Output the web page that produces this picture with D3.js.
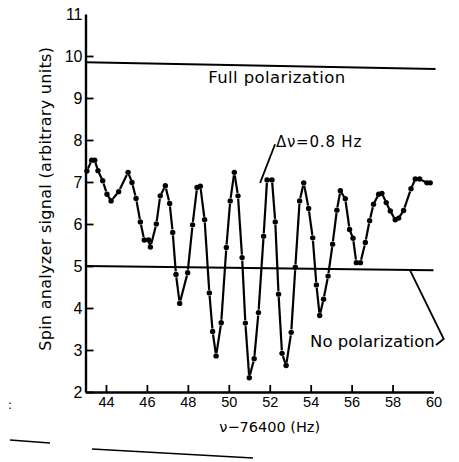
<!DOCTYPE html>
<html>
<head>
<meta charset="utf-8">
<script src="https://cdn.jsdelivr.net/npm/d3@7"></script>
<style>
  body { margin: 0; background: #fff; }
  svg { display: block; font-family: "DejaVu Sans", sans-serif; }
</style>
</head>
<body>
<script>
const width = 459
const height = 462
const margin = ({top: 14, right: 25.5, bottom: 70, left: 85.5})

// frequency offset nu - 76400 (Hz)
const freq = [43.07, 43.30, 43.45, 43.61, 43.84, 44.05, 44.25, 44.62, 45.08, 45.27,
    45.47, 45.68, 45.87, 46.08, 46.17, 46.46, 46.65, 46.90, 47.11, 47.26,
    47.42, 47.60, 47.99, 48.23, 48.45, 48.61, 48.82, 49.05, 49.21, 49.38,
    49.63, 49.88, 50.07, 50.27, 50.45, 50.65, 50.81, 51.00, 51.24, 51.45,
    51.70, 51.87, 52.11, 52.27, 52.43, 52.60, 52.80, 53.05, 53.25, 53.46,
    53.66, 53.90, 54.10, 54.28, 54.44, 54.63, 54.85, 55.07, 55.28, 55.45,
    55.69, 55.90, 56.07, 56.23, 56.43, 56.67, 56.88, 57.07, 57.32, 57.48,
    57.69, 57.89, 58.13, 58.30, 58.54, 58.90, 59.11, 59.32, 59.68, 59.84]

// spin analyzer signal (arbitrary units)
const signal = [7.26, 7.52, 7.52, 7.27, 7.03, 6.71, 6.55, 6.77, 7.23, 6.99,
    6.61, 6.05, 5.62, 5.62, 5.45, 6.00, 6.67, 6.91, 6.49, 5.80,
    4.80, 4.11, 4.84, 5.98, 6.87, 6.90, 6.10, 4.36, 3.44, 2.86,
    3.65, 5.44, 6.55, 7.23, 6.67, 5.20, 3.64, 2.34, 2.79, 3.89,
    5.71, 7.05, 7.05, 6.05, 4.33, 2.92, 2.63, 3.42, 4.97, 6.55,
    6.98, 6.37, 5.67, 4.55, 3.82, 4.21, 4.76, 5.52, 6.33, 6.79,
    6.60, 5.87, 5.66, 5.08, 5.08, 5.56, 6.08, 6.47, 6.71, 6.73,
    6.51, 6.31, 6.10, 6.14, 6.32, 6.84, 7.07, 7.07, 6.98, 6.98]

const xTicks = [44, 46, 48, 50, 52, 54, 56, 58, 60]
const yTicks = [2, 3, 4, 5, 6, 7, 8, 9, 10, 11]

// reference levels (left end, right end) - the scan is a little tilted
const fullLevel = [9.85, 9.69]
const noneLevel = [5.0, 4.9]

const data = freq.map((f, i) => ({f, s: signal[i]}))

const x = d3.scaleLinear()
    .domain([43, 60])
    .range([margin.left, width - margin.right])

const y = d3.scaleLinear()
    .domain([2, 11])
    .range([height - margin.bottom, margin.top])

const svg = d3.select("body").append("svg")
    .attr("width", width)
    .attr("height", height)
    .attr("viewBox", [0, 0, width, height])

// axes
const xAxis = g => g
    .attr("transform", `translate(0,${height - margin.bottom})`)
    .call(d3.axisBottom(x).tickValues(xTicks).tickSize(-7).tickPadding(5).tickSizeOuter(0))
    .call(g => g.select(".domain").attr("stroke-width", 2.4))
    .call(g => g.selectAll(".tick line").attr("stroke-width", 1.8))
    .call(g => g.selectAll(".tick").filter(d => d === 60).select("line").remove())
    .call(g => g.selectAll(".tick text").attr("font-size", 14.5).attr("fill", "#000"))

const yAxis = g => g
    .attr("transform", `translate(${margin.left},0)`)
    .call(d3.axisLeft(y).tickValues(yTicks).tickSize(-8).tickPadding(3).tickSizeOuter(0))
    .call(g => g.select(".domain").attr("stroke-width", 2.4))
    .call(g => g.selectAll(".tick line").attr("stroke-width", 1.8))
    .call(g => g.selectAll(".tick").filter(d => d === 11).select("line").remove())
    .call(g => g.selectAll(".tick text").attr("font-size", 16).attr("fill", "#000"))

svg.append("g").call(xAxis)
svg.append("g").call(yAxis)

// reference lines
svg.append("line")
    .attr("x1", x(43)).attr("x2", x(60.1))
    .attr("y1", y(fullLevel[0])).attr("y2", y(fullLevel[1]))
    .attr("stroke", "#000").attr("stroke-width", 2)

svg.append("line")
    .attr("x1", x(43)).attr("x2", x(60))
    .attr("y1", y(noneLevel[0])).attr("y2", y(noneLevel[1]))
    .attr("stroke", "#000").attr("stroke-width", 2)

// data curve: segments broken around each dot
const pts = data.map(d => [x(d.f), y(d.s)])
const segs = d3.pairs(pts).map(([a, b]) => {
    const dx = b[0] - a[0], dy = b[1] - a[1]
    const len = Math.hypot(dx, dy)
    const gap = Math.min(3, len * 0.22)
    const ux = dx / len, uy = dy / len
    return [a[0] + ux * gap, a[1] + uy * gap, b[0] - ux * gap, b[1] - uy * gap]
})

svg.append("g")
    .attr("stroke", "#000")
    .attr("stroke-width", 2.2)
    .attr("stroke-linecap", "butt")
  .selectAll("line")
  .data(segs)
  .join("line")
    .attr("x1", d => d[0]).attr("y1", d => d[1])
    .attr("x2", d => d[2]).attr("y2", d => d[3])

svg.append("g")
  .selectAll("circle")
  .data(data)
  .join("circle")
    .attr("cx", d => x(d.f))
    .attr("cy", d => y(d.s))
    .attr("r", 2.7)
    .attr("fill", "#000")

// labels
svg.append("text")
    .attr("transform", `translate(51,${y(6.6)}) rotate(-90)`)
    .attr("text-anchor", "middle")
    .attr("font-size", 16)
    .attr("letter-spacing", 0.3)
    .text("Spin analyzer signal (arbitrary units)")

svg.append("text")
    .attr("x", x(52))
    .attr("y", 432)
    .attr("text-anchor", "middle")
    .attr("font-size", 14.5)
    .text("ν−76400 (Hz)")

svg.append("text")
    .attr("x", x(52.35))
    .attr("y", y(9.36))
    .attr("text-anchor", "middle")
    .attr("font-size", 16.5)
    .attr("letter-spacing", 0.4)
    .text("Full polarization")

svg.append("text")
    .attr("x", x(52.3))
    .attr("y", y(7.83))
    .attr("font-size", 15)
    .attr("letter-spacing", 0.8)
    .text("Δν=0.8 Hz")

svg.append("line")
    .attr("x1", x(52.26)).attr("y1", y(7.9))
    .attr("x2", x(51.53)).attr("y2", y(6.98))
    .attr("stroke", "#000").attr("stroke-width", 1.8)

svg.append("text")
    .attr("x", x(53.97))
    .attr("y", y(3.07))
    .attr("font-size", 16.5)
    .text("No polarization")

svg.append("path")
    .attr("d", d3.line()([[x(60.12), y(3.12)], [x(60.5), y(3.26)], [x(58.85), y(4.9)]]))
    .attr("fill", "none")
    .attr("stroke", "#000")
    .attr("stroke-width", 1.8)

// scan edge marks at the bottom
svg.append("g")
    .attr("stroke", "#000")
    .attr("stroke-width", 1.6)
  .selectAll("line")
  .data([[10, 440, 50, 443], [92, 449, 253, 458]])
  .join("line")
    .attr("x1", d => d[0]).attr("y1", d => d[1])
    .attr("x2", d => d[2]).attr("y2", d => d[3])

svg.append("text")
    .attr("x", 8)
    .attr("y", 409)
    .attr("font-size", 12)
    .text(":")
</script>
</body>
</html>
